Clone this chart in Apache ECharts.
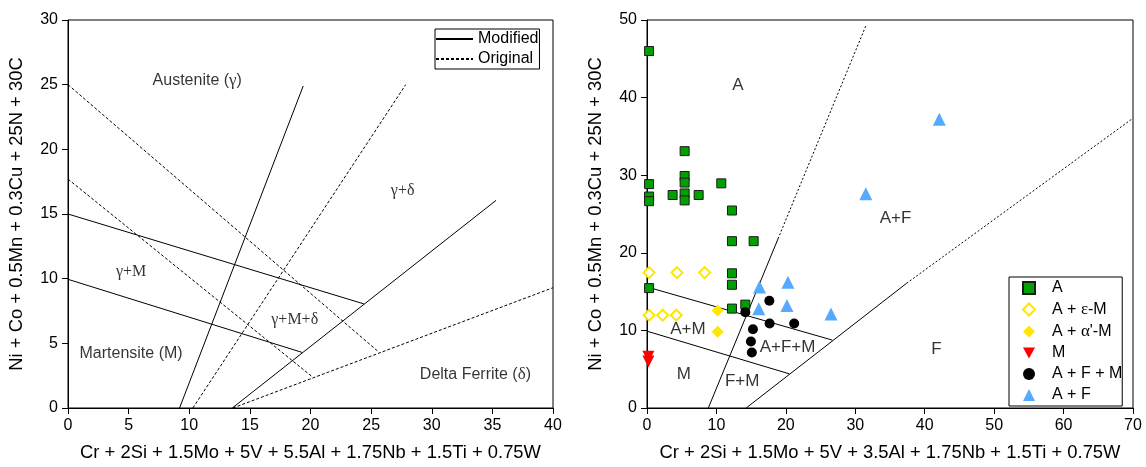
<!DOCTYPE html>
<html>
<head>
<meta charset="utf-8">
<script src="https://cdn.jsdelivr.net/npm/echarts@6/dist/echarts.min.js"></script>
<style>
html,body{margin:0;padding:0;background:#fff;}
#c{width:1146px;height:467px;}
</style>
</head>
<body>
<div id="c"></div>
<script>
// ---------- Left chart data (Schaeffler diagram, original vs modified) ----------
const leftXName = 'Cr + 2Si + 1.5Mo + 5V + 5.5Al + 1.75Nb + 1.5Ti + 0.75W';
const leftYName = 'Ni + Co + 0.5Mn + 0.3Cu + 25N + 30C';
const modifiedLines = [
  [[0, 15], [24.4, 8.05]],
  [[0, 9.95], [19.3, 4.3]],
  [[9.2, 0], [19.4, 24.9]],
  [[13.55, 0], [35.3, 16.05]]
];
const originalLines = [
  [[0, 25], [25.6, 4.35]],
  [[0, 17.7], [20.1, 2.45]],
  [[10.3, 0], [27.85, 25]],
  [[13.6, 0], [40, 9.3]]
];
const leftRegionLabels = [
  ['Austenite (γ)', 10.66, 25.3],
  ['γ+δ', 27.6, 16.8],
  ['γ+M', 5.2, 10.5],
  ['γ+M+δ', 18.7, 6.8],
  ['Martensite (M)', 5.2, 4.2],
  ['Delta Ferrite (δ)', 33.6, 2.6]
];

// ---------- Right chart data ----------
const rightXName = 'Cr + 2Si + 1.5Mo + 5V + 3.5Al + 1.75Nb + 1.5Ti + 0.75W';
const rightYName = 'Ni + Co + 0.5Mn + 0.3Cu + 25N + 30C';
const boundarySolid = [
  [[0, 15.6], [26.7, 8.75]],
  [[0, 9.9], [20.5, 4.4]],
  [[8.83, 0], [18.87, 21.8]],
  [[14.28, 0], [37.39, 16.07]]
];
const boundaryDashed = [
  [[18.87, 21.8], [31.57, 49.36]],
  [[37.39, 16.07], [69.84, 37.24]]
];
const rightRegionLabels = [
  ['A', 13.1, 41.6],
  ['A+F', 35.8, 24.45],
  ['A+M', 5.9, 10.1],
  ['A+F+M', 20.25, 7.8],
  ['F', 41.7, 7.5],
  ['M', 5.3, 4.3],
  ['F+M', 13.7, 3.4]
];
const seriesNames = ['A', 'A + ε-M', "A + α'-M", 'M', 'A + F + M', 'A + F'];
const ptsA = [[0.3, 46], [0.3, 28.85], [0.3, 27.25], [0.3, 26.65], [0.3, 15.45],
  [3.69, 27.45], [5.42, 33.1], [5.42, 29.9], [5.42, 29.05], [5.42, 27.65], [5.42, 26.75],
  [7.44, 27.45], [10.7, 28.95], [12.24, 25.45], [12.24, 21.5], [15.36, 21.5],
  [12.24, 17.36], [12.24, 15.88], [12.24, 12.81], [14.16, 13.32]];
const ptsAepsM = [[0.3, 17.45], [4.32, 17.45], [8.3, 17.45], [0.3, 11.96], [2.25, 11.96], [4.22, 11.96]];
const ptsAalphaM = [[10.17, 12.56], [10.17, 9.84]];
const ptsM = [[0.2, 6.6], [0.2, 6.0]];
const ptsAFM = [[14.16, 12.35], [17.62, 13.83], [17.66, 10.9], [21.2, 10.9], [15.26, 10.14], [14.97, 8.56], [15.1, 7.16]];
const ptsAF = [[16.2, 15.58], [20.3, 16.2], [16.1, 12.8], [20.16, 13.2], [26.5, 12.1], [31.52, 27.6], [42.1, 37.2]];

// ---------- Styling ----------
const SANS = 'Arial, "Liberation Sans", Helvetica, sans-serif';
const SERIF = '"Liberation Serif", "Times New Roman", "DejaVu Serif", serif';
const DOWN_TRI = 'path://M0,0 L10,0 L5,9 Z';
function wrapGreek(t) { return t.replace(/([γδεα])/g, '{g|$1}'); }

function axisCommon(extra) {
  return Object.assign({
    type: 'value',
    nameLocation: 'middle',
    nameTextStyle: { fontFamily: SANS, fontSize: 18.4, color: '#000' },
    axisLine: { show: true, onZero: false, lineStyle: { color: '#000', width: 1 } },
    axisTick: { show: true, inside: false, length: 6, lineStyle: { color: '#000' } },
    axisLabel: { fontFamily: SANS, fontSize: 16, color: '#000', margin: 10 },
    splitLine: { show: false }
  }, extra);
}

const series = [];
modifiedLines.forEach(seg => series.push({
  name: 'Modified', type: 'line', xAxisIndex: 0, yAxisIndex: 0, data: seg,
  symbol: 'none', itemStyle: { color: '#000' },
  lineStyle: { color: '#000', width: 1, type: 'solid' }, silent: true, animation: false
}));
originalLines.forEach(seg => series.push({
  name: 'Original', type: 'line', xAxisIndex: 0, yAxisIndex: 0, data: seg,
  symbol: 'none', itemStyle: { color: '#000' },
  lineStyle: { color: '#000', width: 1, type: [3, 2] }, silent: true, animation: false
}));
series.push({
  name: 'leftLabels', type: 'scatter', xAxisIndex: 0, yAxisIndex: 0, symbolSize: 0,
  data: leftRegionLabels.map(r => ({ value: [r[1], r[2]], name: r[0] })),
  label: {
    show: true, position: 'inside', color: '#000', fontSize: 16, fontFamily: SANS,
    formatter: p => {
      const t = p.name;
      return t.indexOf(' ') < 0 ? '{s|' + t + '}' : wrapGreek(t);
    },
    rich: {
      g: { fontFamily: SERIF, fontSize: 17, color: '#000' },
      s: { fontFamily: SERIF, fontSize: 16, color: '#000' }
    }
  },
  silent: true, animation: false
});

boundarySolid.forEach(seg => series.push({
  name: 'bs', type: 'line', xAxisIndex: 1, yAxisIndex: 1, data: seg,
  symbol: 'none', lineStyle: { color: '#000', width: 1 }, silent: true, animation: false
}));
boundaryDashed.forEach(seg => series.push({
  name: 'bd', type: 'line', xAxisIndex: 1, yAxisIndex: 1, data: seg,
  symbol: 'none', lineStyle: { color: '#000', width: 1, type: [2, 2] }, silent: true, animation: false
}));
series.push({
  name: 'rightLabels', type: 'scatter', xAxisIndex: 1, yAxisIndex: 1, symbolSize: 0,
  data: rightRegionLabels.map(r => ({ value: [r[1], r[2]], name: r[0] })),
  label: { show: true, position: 'inside', color: '#000', fontSize: 17, fontFamily: SANS, formatter: p => p.name },
  silent: true, animation: false
});

const scatterDefs = [
  [seriesNames[0], ptsA, 'rect', 9, { color: '#00a000', borderColor: '#1a1a1a', borderWidth: 1 }],
  [seriesNames[1], ptsAepsM, 'diamond', 11, { color: '#ffffff', borderColor: '#ffe600', borderWidth: 2 }],
  [seriesNames[2], ptsAalphaM, 'diamond', 12, { color: '#ffe600' }],
  [seriesNames[3], ptsM, DOWN_TRI, 12, { color: '#ff0000' }],
  [seriesNames[4], ptsAFM, 'circle', 10, { color: '#000000' }],
  [seriesNames[5], ptsAF, 'triangle', 13, { color: '#55aaff' }]
];
scatterDefs.forEach(d => series.push({
  name: d[0], type: 'scatter', xAxisIndex: 1, yAxisIndex: 1, data: d[1],
  symbol: d[2], symbolSize: d[3],
  itemStyle: Object.assign({ opacity: 1 }, d[4]), animation: false, z: 5, clip: false
}));

const chart = echarts.init(document.getElementById('c'), null, { renderer: 'canvas' });
chart.setOption({
  backgroundColor: '#fff',
  animation: false,
  textStyle: { fontFamily: SANS },
  grid: [
    { left: 68, top: 20, width: 485, height: 391, show: true, borderColor: '#000', borderWidth: 1, backgroundColor: 'transparent' },
    { left: 647, top: 20, width: 486, height: 391, show: true, borderColor: '#000', borderWidth: 1, backgroundColor: 'transparent' }
  ],
  xAxis: [
    axisCommon({ gridIndex: 0, min: 0, max: 40, interval: 5, name: leftXName, nameGap: 36 }),
    axisCommon({ gridIndex: 1, min: 0, max: 70, interval: 10, name: rightXName, nameGap: 36 })
  ],
  yAxis: [
    axisCommon({ gridIndex: 0, min: 0, max: 30, interval: 5, name: leftYName, nameGap: 42 }),
    axisCommon({ gridIndex: 1, min: 0, max: 50, interval: 10, name: rightYName, nameGap: 42 })
  ],
  legend: [
    {
      data: ['Modified', 'Original'], orient: 'vertical', left: 435, top: 29,
      padding: [2, 1, 2, 0], itemGap: 4, itemWidth: 37, itemHeight: 14,
      itemStyle: { opacity: 0 },
      borderColor: '#000', borderWidth: 1, backgroundColor: '#fff',
      textStyle: { fontFamily: SANS, fontSize: 16, color: '#000' },
      selectedMode: false
    },
    {
      data: seriesNames, orient: 'vertical', left: 1009, top: 277,
      padding: [3, 0, 3, 13], itemGap: 5, itemWidth: 12, itemHeight: 12,
      borderColor: '#000', borderWidth: 1, backgroundColor: '#fff',
      textStyle: {
        fontFamily: SANS, fontSize: 16, color: '#000',
        rich: {
          sp: { width: 12 },
          t: { fontFamily: SANS, fontSize: 16, color: '#000' },
          g: { fontFamily: SERIF, fontSize: 17, color: '#000' }
        }
      },
      formatter: n => '{sp|}' + n.split(/([γδεα])/).map(s => /^[γδεα]$/.test(s) ? '{g|' + s + '}' : (s ? '{t|' + s + '}' : '')).join(''),
      selectedMode: false
    }
  ],
  series: series
});
</script>
</body>
</html>
